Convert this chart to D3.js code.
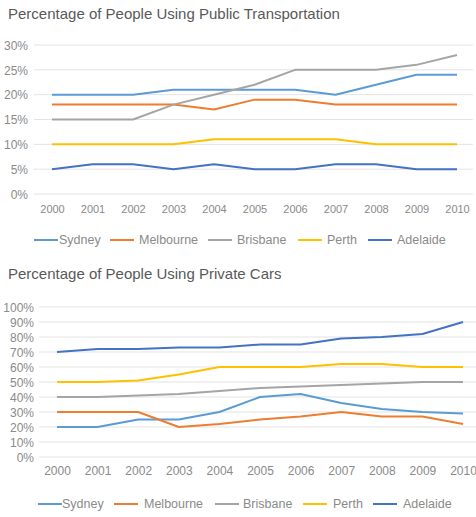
<!doctype html>
<html lang="en">
<head>
<meta charset="utf-8">
<title>Transport</title>
<script src="https://cdn.jsdelivr.net/npm/d3@7"></script>
<style>
  body { margin: 0; background: #fff; }
  svg { font-family: "Liberation Sans", Arial, sans-serif; }
  .grid line { stroke: #e3e3e3; }
  .tick text { fill: #8a8a8a; }
  .title { fill: #595959; font-size: 15px; }
  .legend text { fill: #8a8a8a; font-size: 12.5px; }
</style>
</head>
<body>
<div id="chart"></div>
<script>
// data
var years = [2000, 2001, 2002, 2003, 2004, 2005, 2006, 2007, 2008, 2009, 2010];
var cities = ["Sydney", "Melbourne", "Brisbane", "Perth", "Adelaide"];
var colors = ["#5b9bd5", "#ed7d31", "#a5a5a5", "#ffc000", "#4472c4"];

var publicSydney    = [20, 20, 20, 21, 21, 21, 21, 20, 22, 24, 24];
var publicMelbourne = [18, 18, 18, 18, 17, 19, 19, 18, 18, 18, 18];
var publicBrisbane  = [15, 15, 15, 18, 20, 22, 25, 25, 25, 26, 28];
var publicPerth     = [10, 10, 10, 10, 11, 11, 11, 11, 10, 10, 10];
var publicAdelaide  = [5, 6, 6, 5, 6, 5, 5, 6, 6, 5, 5];
var publicTicks     = [0, 5, 10, 15, 20, 25, 30];

var carSydney    = [20, 20, 25, 25, 30, 40, 42, 36, 32, 30, 29];
var carMelbourne = [30, 30, 30, 20, 22, 25, 27, 30, 27, 27, 22];
var carBrisbane  = [40, 40, 41, 42, 44, 46, 47, 48, 49, 50, 50];
var carPerth     = [50, 50, 51, 55, 60, 60, 60, 62, 62, 60, 60];
var carAdelaide  = [70, 72, 72, 73, 73, 75, 75, 79, 80, 82, 90];
var carTicks     = [0, 10, 20, 30, 40, 50, 60, 70, 80, 90, 100];

var svg = d3.select("#chart").append("svg")
    .attr("width", 476).attr("height", 517);

function drawChart(opt) {
    var g = svg.append("g");

    g.append("text").attr("class", "title")
        .attr("x", 8).attr("y", opt.titleY)
        .text(opt.title);

    var x = d3.scalePoint().domain(years).range([opt.x0, opt.x1]);
    var y = d3.scaleLinear().domain([0, d3.max(opt.ticks)]).range([opt.y0, opt.y1]);

    // gridlines
    g.append("g").attr("class", "grid")
        .selectAll("line").data(opt.ticks).enter().append("line")
        .attr("x1", opt.gx0).attr("x2", opt.gx1)
        .attr("y1", function (d) { return y(d); })
        .attr("y2", function (d) { return y(d); });

    var yAxis = g.append("g")
        .attr("transform", "translate(" + opt.yLabelX + ",0)")
        .call(d3.axisLeft(y).tickValues(opt.ticks).tickSize(0).tickPadding(0)
            .tickFormat(function (d) { return d + "%"; }));
    yAxis.select(".domain").remove();
    yAxis.selectAll("text").style("font-size", opt.yFont + "px")
        .attr("dy", "0.35em");

    var xAxis = g.append("g")
        .attr("transform", "translate(0," + opt.xLabelY + ")")
        .call(d3.axisBottom(x).tickSize(0).tickPadding(0).tickFormat(d3.format("d")));
    xAxis.select(".domain").remove();
    xAxis.selectAll("text").style("font-size", opt.xFont + "px").attr("dy", "0.35em");

    var line = d3.line()
        .x(function (d, i) { return x(years[i]); })
        .y(function (d) { return y(d); });

    // draw order: Sydney first ... Adelaide last
    opt.series.forEach(function (s, i) {
        g.append("path").datum(s)
            .attr("fill", "none")
            .attr("stroke", colors[i])
            .attr("stroke-width", 2)
            .attr("stroke-linejoin", "round")
            .attr("d", line);
    });

    var lg = g.append("g").attr("class", "legend");
    cities.forEach(function (c, i) {
        var lx = opt.legendX[i];
        lg.append("line")
            .attr("x1", lx).attr("x2", lx + 24)
            .attr("y1", opt.legendY).attr("y2", opt.legendY)
            .attr("stroke", colors[i]).attr("stroke-width", 2);
        lg.append("text")
            .attr("x", opt.legendTextX[i]).attr("y", opt.legendY).attr("dy", "0.35em")
            .text(c);
    });
}

drawChart({
    title: "Percentage of People Using Public Transportation",
    titleY: 19,
    series: [publicSydney, publicMelbourne, publicBrisbane, publicPerth, publicAdelaide],
    ticks: publicTicks,
    x0: 52, x1: 457, y0: 194, y1: 45,
    gx0: 34, gx1: 473,
    yLabelX: 28, yFont: 12,
    xLabelY: 209, xFont: 11,
    legendY: 240,
    legendX: [34, 110, 208, 298, 368],
    legendTextX: [59, 139, 237, 327, 397]
});

drawChart({
    title: "Percentage of People Using Private Cars",
    titleY: 279,
    series: [carSydney, carMelbourne, carBrisbane, carPerth, carAdelaide],
    ticks: carTicks,
    x0: 57, x1: 463, y0: 457, y1: 307,
    gx0: 39, gx1: 476,
    yLabelX: 34, yFont: 12,
    xLabelY: 471, xFont: 12,
    legendY: 504,
    legendX: [38, 114, 215, 303, 373],
    legendTextX: [62, 144, 243, 333, 403]
});
</script>
</body>
</html>
